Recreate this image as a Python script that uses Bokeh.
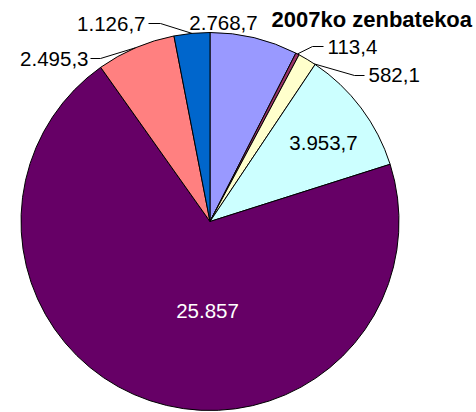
import math
from bokeh.plotting import figure
from bokeh.models import Range1d, ColumnDataSource
from bokeh.core.properties import value
from bokeh.embed import file_html
from bokeh.resources import INLINE

# ---- data ----
values = [2768.7, 113.4, 582.1, 3953.7, 25857.0, 2495.3, 1126.7]
labels = ["2.768,7", "113,4", "582,1", "3.953,7", "25.857", "2.495,3", "1.126,7"]
colors = ["#9999FF", "#993366", "#FFFFCC", "#CCFFFF", "#660066", "#FF8080", "#0066CC"]
title_text = "2007ko zenbatekoa"

# ---- layout (reference pixel coords, y measured downward) ----
W, H = 476, 412
CX, CY, R = 209.5, 221.0, 189.0
label_pos = [(223, 22, "center"), (327, 46, "left"), (368, 74, "left"),
             (323, 142, "center"), (207, 310, "center"), (88, 58, "right"), (145, 23, "right")]
elbows = [None, (312, 46), (354, 75), None, None, (100, 58), (160, 23)]
leader_ends = [None, (323, 46), (364, 75), None, None, (90, 58), (148, 23)]
anchor_frac = [0.5, 0.5, 0.95, 0.5, 0.5, 0.5, 0.5]
text_colors = ["black", "black", "black", "black", "white", "black", "black"]


def Y(y):
    return H - y


p = figure(width=476, height=412, x_range=Range1d(0, 476), y_range=Range1d(0, 412),
           output_backend="svg", toolbar_location=None,
           x_axis_location=None, y_axis_location=None, min_border=0)
p.grid.visible = False
p.outline_line_color = None
p.background_fill_color = "white"

total = sum(values)
starts, ends = [], []
a = math.pi / 2
for v in values:
    span = 2 * math.pi * v / total
    starts.append(a)
    ends.append(a - span)
    a -= span

src = ColumnDataSource(dict(start=ends, end=starts, color=colors))
p.wedge(x=CX, y=Y(CY), radius=R, start_angle="start", end_angle="end",
        fill_color="color", line_color="black", line_width=1, source=src)

for i in range(len(values)):
    if elbows[i] is None:
        continue
    ang = starts[i] + (ends[i] - starts[i]) * anchor_frac[i]
    sx = CX + R * math.cos(ang)
    sy = Y(CY) + R * math.sin(ang)
    ex, ey = elbows[i]
    lx, ly = leader_ends[i]
    p.line([sx, ex, lx], [sy, Y(ey), Y(ly)], line_color="#000000", line_width=1)

for i, lab in enumerate(labels):
    x, y, al = label_pos[i]
    p.text(x=[x], y=[Y(y)], text=[lab], text_align=al, text_baseline="middle",
           text_font=value("Liberation Sans"), text_font_size="20.5px",
           text_color=text_colors[i])

p.text(x=[271], y=[Y(19)], text=[title_text], text_align="left", text_baseline="middle",
       text_font=value("Liberation Sans"), text_font_size="22px", text_font_style="bold",
       text_color="black")

open("out.html", "w").write(file_html(p, INLINE))
